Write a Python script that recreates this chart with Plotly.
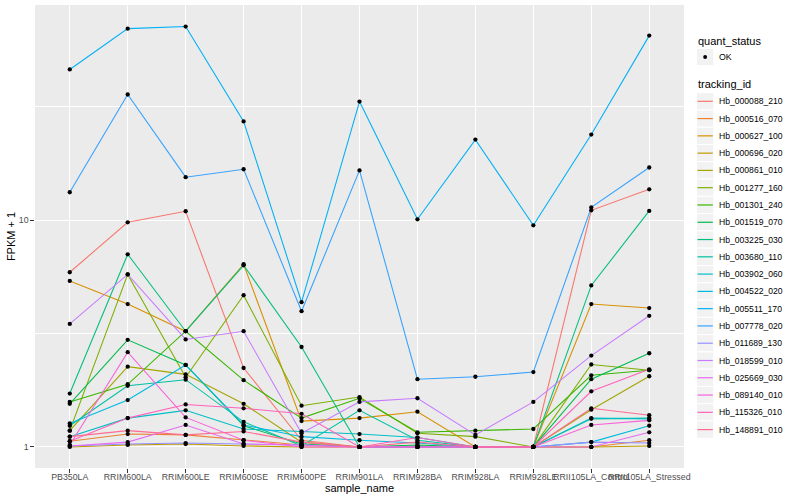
import plotly.graph_objects as go

samples = ["PB350LA", "RRIM600LA", "RRIM600LE", "RRIM600SE", "RRIM600PE", "RRIM901LA",
           "RRIM928BA", "RRIM928LA", "RRIM928LE", "RRII105LA_Control", "RRII105LA_Stressed"]

tracking_ids = ["Hb_000088_210", "Hb_000516_070", "Hb_000627_100", "Hb_000696_020", "Hb_000861_010",
                "Hb_001277_160", "Hb_001301_240", "Hb_001519_070", "Hb_003225_030", "Hb_003680_110",
                "Hb_003902_060", "Hb_004522_020", "Hb_005511_170", "Hb_007778_020", "Hb_011689_130",
                "Hb_018599_010", "Hb_025669_030", "Hb_089140_010", "Hb_115326_010", "Hb_148891_010"]

hb_000088_210 = [5.90, 9.80, 10.96, 2.23, 1.07, 1.00, 1.01, 1.00, 1.00, 11.07, 13.7]
hb_000516_070 = [1.06, 1.14, 1.13, 1.07, 1.02, 1.00, 1.00, 1.00, 1.00, 1.00, 1.07]
hb_000627_100 = [5.40, 4.27, 3.24, 6.40, 1.30, 1.34, 1.43, 1.00, 1.00, 4.27, 4.10]
hb_000696_020 = [1.00, 1.02, 1.03, 1.01, 1.00, 1.00, 1.00, 1.00, 1.00, 1.00, 1.01]
hb_000861_010 = [1.18, 2.26, 2.09, 1.55, 1.05, 1.00, 1.00, 1.00, 1.00, 1.46, 2.05]
hb_001277_160 = [1.18, 5.77, 2.03, 4.67, 1.52, 1.66, 1.15, 1.11, 1.00, 2.31, 2.18]
hb_001301_240 = [1.58, 1.89, 3.24, 1.97, 1.34, 1.64, 1.16, 1.18, 1.20, 2.07, 2.18]
hb_001519_070 = [1.55, 2.97, 2.30, 1.24, 1.03, 1.00, 1.02, 1.00, 1.00, 1.99, 2.59]
hb_003225_030 = [1.72, 7.08, 3.24, 6.33, 2.76, 1.00, 1.00, 1.00, 1.00, 5.16, 11.0]
hb_003680_110 = [1.24, 1.86, 1.98, 1.29, 1.01, 1.45, 1.07, 1.00, 1.00, 1.33, 1.34]
hb_003902_060 = [1.11, 1.34, 1.45, 1.20, 1.17, 1.14, 1.10, 1.00, 1.00, 1.34, 1.33]
hb_004522_020 = [1.27, 1.61, 2.30, 1.25, 1.11, 1.07, 1.04, 1.00, 1.00, 1.05, 1.24]
hb_005511_170 = [46.3, 70.1, 71.6, 27.3, 4.35, 33.4, 10.1, 22.7, 9.5, 23.9, 65.3]
hb_007778_020 = [13.3, 35.9, 15.5, 16.8, 3.97, 16.6, 1.99, 2.04, 2.14, 11.4, 17.1]
hb_011689_130 = [1.01, 1.03, 1.04, 1.03, 1.02, 1.00, 1.00, 1.00, 1.00, 1.05, 1.04]
hb_018599_010 = [3.49, 5.77, 2.98, 3.24, 1.15, 1.58, 1.64, 1.13, 1.58, 2.53, 3.79]
hb_025669_030 = [1.01, 1.05, 1.25, 1.03, 1.02, 1.00, 1.00, 1.00, 1.00, 1.00, 1.16]
hb_089140_010 = [1.02, 2.62, 1.35, 1.07, 1.00, 1.00, 1.00, 1.00, 1.00, 1.25, 1.31]
hb_115326_010 = [1.06, 1.34, 1.54, 1.48, 1.40, 1.00, 1.10, 1.00, 1.00, 1.76, 2.20]
hb_148891_010 = [1.11, 1.18, 1.13, 1.17, 1.05, 1.00, 1.05, 1.00, 1.00, 1.48, 1.38]

series = [hb_000088_210, hb_000516_070, hb_000627_100, hb_000696_020, hb_000861_010,
          hb_001277_160, hb_001301_240, hb_001519_070, hb_003225_030, hb_003680_110,
          hb_003902_060, hb_004522_020, hb_005511_170, hb_007778_020, hb_011689_130,
          hb_018599_010, hb_025669_030, hb_089140_010, hb_115326_010, hb_148891_010]

colors = ["#F8766D", "#EA8331", "#D89000", "#C09B00", "#A3A500", "#7CAE00", "#39B600", "#00BB4E",
          "#00BF7D", "#00C1A3", "#00BFC4", "#00BAE0", "#00B0F6", "#35A2FF", "#9590FF", "#C77CFF",
          "#E76BF3", "#FA62DB", "#FF62BC", "#FF6C91"]

FONT = "Liberation Sans, Arial, sans-serif"
L, R, T, B = 35, 116, 5, 32
W, H = 800, 500
PW, PH = W - L - R, H - T - B


def px(x):
    return (x - L) / PW


def py(y):
    return (H - B - y) / PH


fig = go.Figure()
for name, vals, col in zip(tracking_ids, series, colors):
    fig.add_trace(go.Scatter(x=samples, y=vals, mode="lines", name=name,
                             line=dict(color=col, width=1.07), showlegend=False))

all_x = [s for _ in series for s in samples]
all_y = [v for vals in series for v in vals]
fig.add_trace(go.Scatter(x=all_x, y=all_y, mode="markers", name="OK",
                         marker=dict(color="black", size=4.3), showlegend=False))

shapes = []
annotations = []

# legend: quant_status
annotations.append(dict(x=px(696), y=py(40.7), xref="paper", yref="paper", text="quant_status",
                        showarrow=False, xanchor="left", yanchor="middle",
                        font=dict(size=11, color="black", family=FONT)))
shapes.append(dict(type="rect", xref="paper", yref="paper", x0=px(696.5), x1=px(713.8),
                   y0=py(48.4), y1=py(65.7), fillcolor="#F2F2F2", line=dict(color="white", width=1)))
shapes.append(dict(type="circle", xref="paper", yref="paper", x0=px(703.2), x1=px(707.1),
                   y0=py(55.1), y1=py(59.0), fillcolor="black", line=dict(color="black", width=0)))
annotations.append(dict(x=px(716.5), y=py(57), xref="paper", yref="paper", text="OK",
                        showarrow=False, xanchor="left", yanchor="middle",
                        font=dict(size=8.8, color="black", family=FONT)))

# legend: tracking_id
annotations.append(dict(x=px(696), y=py(84.3), xref="paper", yref="paper", text="tracking_id",
                        showarrow=False, xanchor="left", yanchor="middle",
                        font=dict(size=11, color="black", family=FONT)))
for i, (name, col) in enumerate(zip(tracking_ids, colors)):
    yc = 101.3 + 17.28 * i
    shapes.append(dict(type="rect", xref="paper", yref="paper", x0=px(696.5), x1=px(713.8),
                       y0=py(yc - 8.64), y1=py(yc + 8.64), fillcolor="#F2F2F2",
                       line=dict(color="white", width=1)))
    shapes.append(dict(type="line", xref="paper", yref="paper", x0=px(697.5), x1=px(712.8),
                       y0=py(yc), y1=py(yc), line=dict(color=col, width=1.2)))
    annotations.append(dict(x=px(716.5), y=py(yc), xref="paper", yref="paper", text=name,
                            showarrow=False, xanchor="left", yanchor="middle",
                            font=dict(size=8.6, color="black", family=FONT)))

fig.update_layout(
    width=W, height=H,
    margin=dict(l=L, r=R, t=T, b=B),
    plot_bgcolor="#EBEBEB", paper_bgcolor="white",
    font=dict(family=FONT),
    showlegend=False,
    shapes=shapes,
    annotations=annotations,
)

fig.update_xaxes(
    type="category", categoryorder="array", categoryarray=samples,
    range=[-0.6, len(samples) - 0.4],
    tickangle=0, ticks="outside", ticklen=3.7, tickwidth=1.07, tickcolor="#333333",
    tickfont=dict(size=8.8, color="#4D4D4D", family=FONT),
    ticklabelstandoff=-3,
    showgrid=True, gridcolor="white", gridwidth=1.07, zeroline=False, showline=False,
    title=dict(text="sample_name", font=dict(size=11, color="black", family=FONT), standoff=0),
    automargin=False,
)

fig.update_yaxes(
    type="log", range=[-0.093, 1.95],
    tickmode="array", tickvals=[1, 10], ticktext=["1", "10"],
    ticks="outside", ticklen=3.7, tickwidth=1.07, tickcolor="#333333",
    tickfont=dict(size=8.8, color="#4D4D4D", family=FONT),
    showgrid=True, gridcolor="white", gridwidth=1.07, zeroline=False, showline=False,
    minor=dict(tickmode="array", tickvals=[10 ** 0.5, 10 ** 1.5], showgrid=True,
               gridcolor="white", gridwidth=0.53, ticks=""),
    title=dict(text="FPKM + 1", font=dict(size=11, color="black", family=FONT), standoff=0),
    automargin=False,
)

fig.write_html("out.html", config={"displayModeBar": False},
               post_script="document.body.style.margin='0px';document.body.style.padding='0px';")
